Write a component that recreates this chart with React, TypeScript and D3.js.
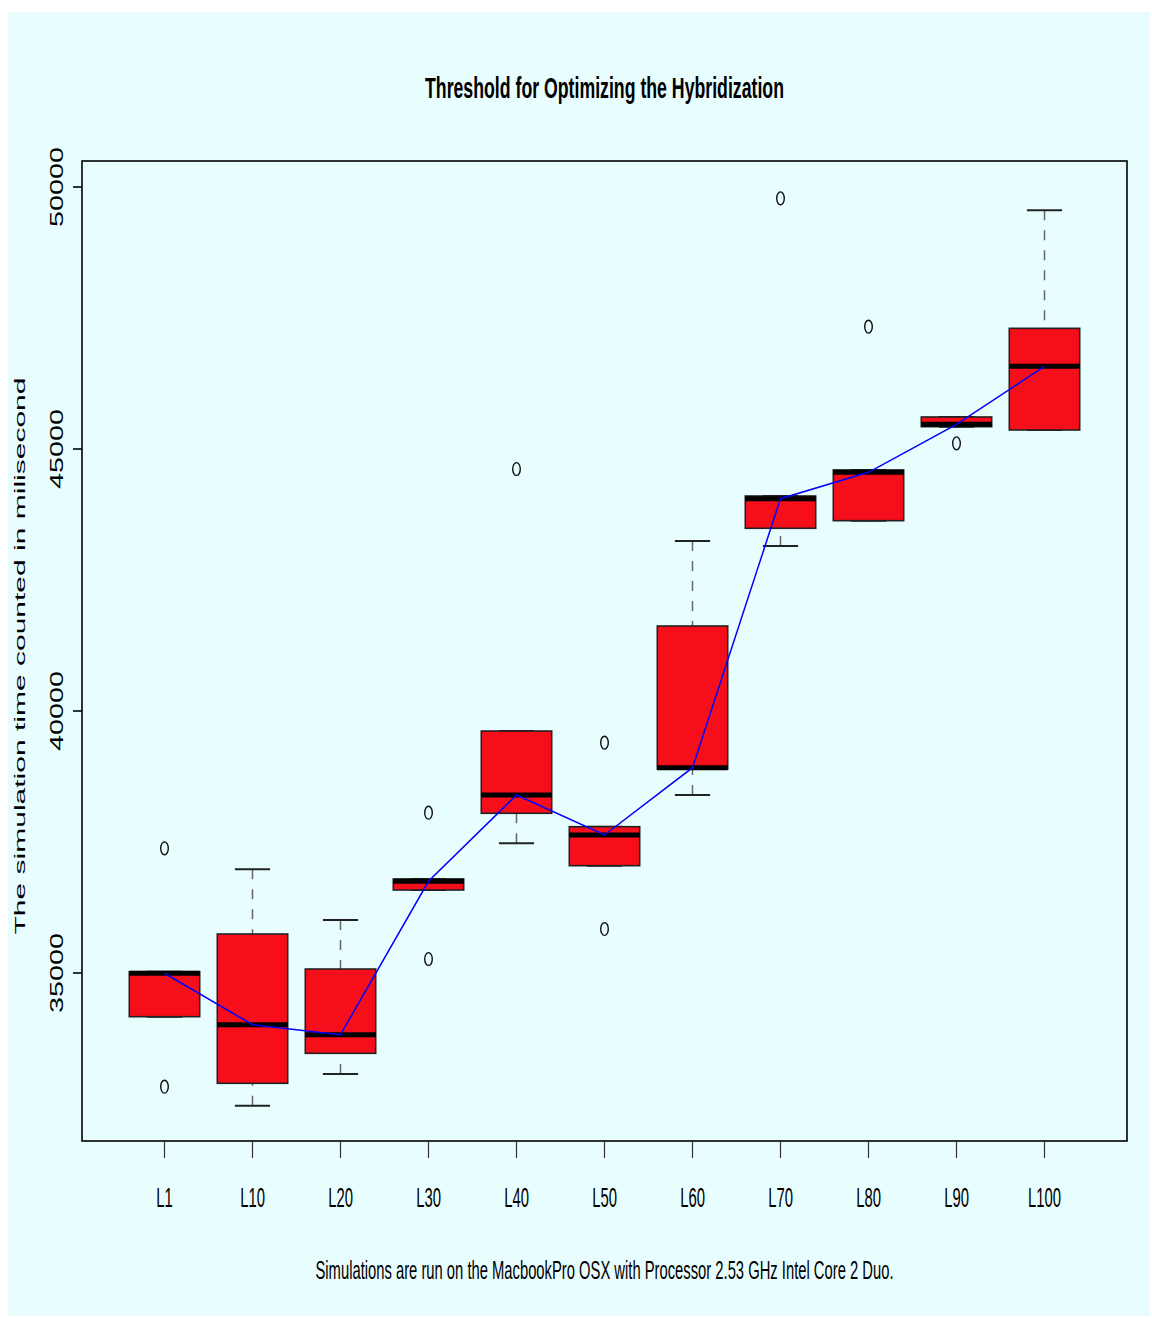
import React from "react";
import * as d3 from "d3";

const categories = ["L1", "L10", "L20", "L30", "L40", "L50", "L60", "L70", "L80", "L90", "L100"];
const lowerWhisker = [34166, 32468, 33073, 36584, 37475, 37048, 38397, 43149, 43632, 45426, 45363];
const q1 = [34166, 32895, 33467, 36584, 38048, 37048, 38893, 43487, 43632, 45426, 45363];
const medians = [34995, 34013, 33823, 36750, 38397, 37634, 38918, 44052, 44555, 45471, 46578];
const q3 = [35025, 35744, 35076, 36794, 39618, 37792, 41622, 44103, 44599, 45611, 47303];
const upperWhisker = [35025, 36979, 36011, 36794, 39618, 37792, 43244, 44103, 44599, 45611, 49555];
const outliers: number[][] = [
  [37380, 32830],
  [],
  [],
  [38059, 35267],
  [44618],
  [39395, 35840],
  [],
  [49784],
  [47334],
  [45109],
  [],
];
const yTicks = [35000, 40000, 45000, 50000];

const title = "Threshold for Optimizing the Hybridization";
const yTitle = "The simulation time counted in milisecond";
const caption = "Simulations are run on the MacbookPro OSX with Processor 2.53 GHz Intel Core 2 Duo.";

const FONT = "'Liberation Sans', Arial, Helvetica, sans-serif";

export default function App() {
  const W = 1152;
  const H = 1317;
  const left = 82, right = 1127, top = 161, bottom = 1141;
  const y = d3.scaleLinear().domain([35000, 50000]).range([973, 187]);
  const x = d3.scaleLinear().domain([1, 11]).range([164.5, 1044.5]);
  const halfW = x(1.4) - x(1);
  const capHalf = halfW / 2;
  const medLine = d3
    .line<number>()
    .x((_, i) => x(i + 1))
    .y((d) => y(d));

  return (
    <svg
      width={W}
      height={H}
      style={{ position: "absolute", left: 0, top: 0, display: "block" }}
    >
      <rect x={0} y={0} width={W} height={H} fill="#ffffff" />
      <rect x={8} y={12} width={1142} height={1304} fill="#e8fdfd" />

      {/* title */}
      <text
        x={604.5}
        y={98}
        textAnchor="middle"
        fontFamily={FONT}
        fontWeight="bold"
        fontSize={30}
        textLength={359}
        lengthAdjust="spacingAndGlyphs"
        fill="#000"
      >
        {title}
      </text>

      {/* boxes */}
      {categories.map((c, i) => {
        const cx = x(i + 1);
        return (
          <g key={c}>
            <line x1={cx} x2={cx} y1={y(upperWhisker[i])} y2={y(q3[i])} stroke="#666" strokeWidth={1.5} strokeDasharray="10,10" />
            <line x1={cx} x2={cx} y1={y(lowerWhisker[i])} y2={y(q1[i])} stroke="#666" strokeWidth={1.5} strokeDasharray="10,10" />
            <line x1={cx - capHalf} x2={cx + capHalf} y1={y(upperWhisker[i])} y2={y(upperWhisker[i])} stroke="#222" strokeWidth={2} />
            <line x1={cx - capHalf} x2={cx + capHalf} y1={y(lowerWhisker[i])} y2={y(lowerWhisker[i])} stroke="#222" strokeWidth={2} />
            <rect
              x={cx - halfW}
              y={y(q3[i])}
              width={2 * halfW}
              height={Math.max(0.5, y(q1[i]) - y(q3[i]))}
              fill="#f60e1a"
              stroke="#222"
              strokeWidth={1.6}
            />
            <line x1={cx - halfW} x2={cx + halfW} y1={y(medians[i])} y2={y(medians[i])} stroke="#000" strokeWidth={5} />
            {outliers[i].map((o, j) => (
              <ellipse key={j} cx={cx} cy={y(o)} rx={3.8} ry={6.4} fill="none" stroke="#111" strokeWidth={1.4} />
            ))}
          </g>
        );
      })}

      {/* median connecting line */}
      <path d={medLine(medians) || ""} fill="none" stroke="#0000ff" strokeWidth={1.5} />

      {/* frame */}
      <rect x={left} y={top} width={right - left} height={bottom - top} fill="none" stroke="#000" strokeWidth={1.6} />

      {/* y axis */}
      {yTicks.map((t) => (
        <g key={t}>
          <line x1={left - 9} x2={left} y1={y(t)} y2={y(t)} stroke="#000" strokeWidth={1.6} />
          <text
            transform={`translate(63, ${y(t)}) rotate(-90)`}
            textAnchor="middle"
            fontFamily={FONT}
            fontSize={17.5}
            textLength={80}
            lengthAdjust="spacingAndGlyphs"
            fill="#000"
          >
            {String(t)}
          </text>
        </g>
      ))}
      <text
        transform={`translate(25, 656) rotate(-90)`}
        textAnchor="middle"
        fontFamily={FONT}
        fontSize={14.5}
        textLength={557}
        lengthAdjust="spacingAndGlyphs"
        fill="#000"
      >
        {yTitle}
      </text>

      {/* x axis */}
      {categories.map((c, i) => (
        <g key={c}>
          <line x1={x(i + 1)} x2={x(i + 1)} y1={bottom} y2={bottom + 17} stroke="#333" strokeWidth={1.2} />
          <g transform={`translate(${x(i + 1)}, 1207) scale(0.55, 1)`}>
            <text textAnchor="middle" fontFamily={FONT} fontSize={27} fill="#000">
              {c}
            </text>
          </g>
        </g>
      ))}

      <g transform="translate(604.5, 1279) scale(0.55, 1)">
        <text textAnchor="middle" fontFamily={FONT} fontSize={26.5} textLength={1051} lengthAdjust="spacingAndGlyphs" fill="#000">
          {caption}
        </text>
      </g>
    </svg>
  );
}
